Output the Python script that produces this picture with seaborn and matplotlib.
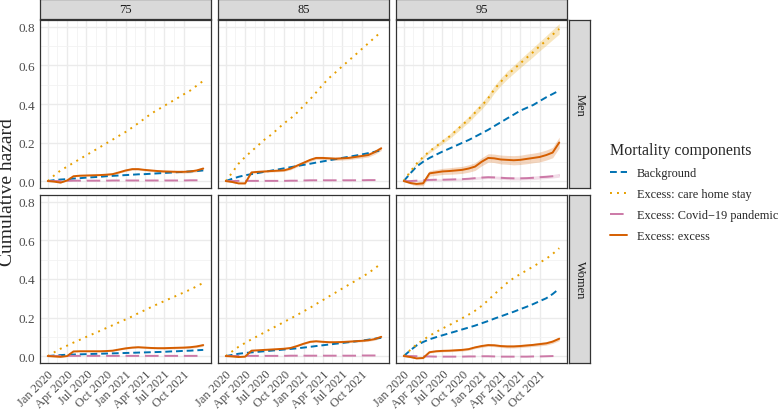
import numpy as np
import pandas as pd
import seaborn as sns
import matplotlib.pyplot as plt

sns.set_style("white")
plt.rcParams['font.family'] = ['Liberation Serif', 'DejaVu Serif']

# Monthly points, Jan 2020 .. Jan 2022
dates = pd.date_range('2020-01-01', '2022-01-01', freq='MS')
ages = ['75', '85', '95']
sexes = ['Men', 'Women']
components = ['Background', 'Excess: care home stay',
              'Excess: Covid\u221219 pandemic', 'Excess: excess']
colors = ['#0072B2', '#E69F00', '#CC79A7', '#D55E00']
tick_dates = pd.date_range('2020-01-01', '2021-10-01', freq='3MS')
tick_labels = ['Jan 2020', 'Apr 2020', 'Jul 2020', 'Oct 2020',
               'Jan 2021', 'Apr 2021', 'Jul 2021', 'Oct 2021']

# ---- Men ----
men_75_background = [0, 0.005, 0.008, 0.010, 0.013, 0.015, 0.018, 0.020, 0.022, 0.025, 0.027, 0.029, 0.031,
                     0.033, 0.035, 0.036, 0.038, 0.040, 0.042, 0.044, 0.046, 0.048, 0.050, 0.052, 0.055]
men_75_care = [0, 0.03, 0.055, 0.075, 0.095, 0.115, 0.135, 0.155, 0.175, 0.195, 0.215, 0.235, 0.255,
               0.278, 0.30, 0.325, 0.35, 0.37, 0.39, 0.41, 0.43, 0.45, 0.47, 0.495, 0.52]
men_75_covid = [0, 0, 0.001, 0.001, 0.002, 0.002, 0.002, 0.002, 0.002, 0.002, 0.003, 0.003, 0.003,
                0.003, 0.003, 0.003, 0.003, 0.003, 0.003, 0.003, 0.003, 0.003, 0.004, 0.004, 0.004]
men_75_excess = [0, -0.003, -0.008, 0.003, 0.025, 0.028, 0.029, 0.030, 0.031, 0.033, 0.036, 0.045, 0.055,
                 0.062, 0.062, 0.058, 0.055, 0.052, 0.050, 0.049, 0.048, 0.048, 0.050, 0.055, 0.065]

men_85_background = [0, 0.012, 0.022, 0.030, 0.036, 0.042, 0.048, 0.054, 0.060, 0.066, 0.072, 0.078, 0.084,
                     0.090, 0.096, 0.102, 0.108, 0.114, 0.120, 0.126, 0.132, 0.138, 0.145, 0.152, 0.160]
men_85_care = [0, 0.045, 0.09, 0.125, 0.155, 0.185, 0.215, 0.24, 0.27, 0.30, 0.325, 0.355, 0.39,
               0.425, 0.46, 0.50, 0.535, 0.565, 0.595, 0.625, 0.655, 0.685, 0.715, 0.745, 0.775]
men_85_covid = [0, 0, 0.001, 0.001, 0.001, 0.001, 0.001, 0.001, 0.001, 0.001, 0.002, 0.002, 0.003,
                0.004, 0.004, 0.004, 0.004, 0.004, 0.004, 0.004, 0.004, 0.004, 0.005, 0.005, 0.006]
men_85_excess = [0, -0.005, -0.012, -0.012, 0.045, 0.048, 0.050, 0.052, 0.054, 0.056, 0.065, 0.080, 0.095,
                 0.110, 0.120, 0.120, 0.118, 0.116, 0.118, 0.120, 0.125, 0.130, 0.135, 0.150, 0.170]

men_95_background = [0, 0.04, 0.075, 0.10, 0.12, 0.137, 0.153, 0.168, 0.183, 0.198, 0.213, 0.23, 0.248,
                     0.266, 0.285, 0.305, 0.325, 0.345, 0.365, 0.38, 0.395, 0.415, 0.435, 0.452, 0.47]
men_95_care = [0, 0.05, 0.09, 0.125, 0.155, 0.18, 0.205, 0.23, 0.26, 0.29, 0.32, 0.355, 0.39,
               0.43, 0.475, 0.515, 0.55, 0.58, 0.61, 0.64, 0.67, 0.70, 0.73, 0.76, 0.79]
men_95_covid = [0, 0, 0.002, 0.004, 0.006, 0.007, 0.007, 0.008, 0.009, 0.010, 0.012, 0.015, 0.018,
                0.020, 0.019, 0.017, 0.015, 0.014, 0.014, 0.015, 0.017, 0.020, 0.022, 0.025, 0.030]
men_95_excess = [0, -0.010, -0.015, -0.012, 0.040, 0.045, 0.050, 0.052, 0.055, 0.058, 0.065, 0.075, 0.100,
                 0.120, 0.118, 0.112, 0.110, 0.108, 0.110, 0.115, 0.120, 0.125, 0.135, 0.148, 0.200]

# ---- Women ----
women_75_background = [0, 0.003, 0.005, 0.007, 0.008, 0.009, 0.010, 0.011, 0.012, 0.013, 0.014, 0.015, 0.016,
                       0.017, 0.018, 0.019, 0.020, 0.021, 0.022, 0.024, 0.025, 0.027, 0.028, 0.030, 0.032]
women_75_care = [0, 0.02, 0.038, 0.054, 0.07, 0.085, 0.10, 0.115, 0.13, 0.145, 0.16, 0.175, 0.19,
                 0.206, 0.222, 0.238, 0.254, 0.27, 0.285, 0.30, 0.315, 0.33, 0.345, 0.362, 0.38]
women_75_covid = [0, 0, 0, 0.001, 0.001, 0.001, 0.001, 0.001, 0.001, 0.001, 0.001, 0.001, 0.001,
                  0.001, 0.001, 0.001, 0.001, 0.001, 0.001, 0.001, 0.001, 0.001, 0.001, 0.001, 0.002]
women_75_excess = [0, -0.002, -0.004, 0.0, 0.024, 0.025, 0.025, 0.025, 0.025, 0.026, 0.028, 0.034, 0.040,
                   0.044, 0.046, 0.044, 0.042, 0.041, 0.041, 0.042, 0.043, 0.044, 0.046, 0.050, 0.057]

women_85_background = [0, 0.006, 0.012, 0.016, 0.019, 0.022, 0.025, 0.028, 0.031, 0.034, 0.037, 0.040, 0.044,
                       0.048, 0.052, 0.056, 0.060, 0.064, 0.068, 0.072, 0.076, 0.080, 0.085, 0.090, 0.095]
women_85_care = [0, 0.025, 0.048, 0.068, 0.087, 0.105, 0.123, 0.141, 0.159, 0.177, 0.195, 0.213, 0.232,
                 0.251, 0.27, 0.29, 0.31, 0.33, 0.35, 0.37, 0.39, 0.41, 0.43, 0.455, 0.48]
women_85_covid = [0, 0, 0.001, 0.001, 0.001, 0.001, 0.001, 0.001, 0.001, 0.001, 0.002, 0.002, 0.002,
                  0.002, 0.002, 0.002, 0.002, 0.002, 0.002, 0.002, 0.002, 0.003, 0.003, 0.003, 0.004]
women_85_excess = [0, -0.002, -0.005, -0.003, 0.028, 0.030, 0.032, 0.034, 0.036, 0.038, 0.042, 0.052, 0.064,
                   0.074, 0.077, 0.074, 0.072, 0.072, 0.073, 0.075, 0.077, 0.079, 0.082, 0.088, 0.100]

women_95_background = [0, 0.03, 0.055, 0.073, 0.087, 0.098, 0.108, 0.118, 0.128, 0.138, 0.148, 0.158, 0.170,
                       0.182, 0.194, 0.206, 0.218, 0.23, 0.243, 0.256, 0.27, 0.285, 0.30, 0.322, 0.35]
women_95_care = [0, 0.032, 0.06, 0.084, 0.105, 0.125, 0.143, 0.16, 0.178, 0.196, 0.215, 0.235, 0.26,
                 0.29, 0.32, 0.35, 0.38, 0.405, 0.425, 0.445, 0.465, 0.485, 0.505, 0.53, 0.56]
women_95_covid = [0, 0, -0.001, -0.002, -0.002, -0.003, -0.003, -0.003, -0.003, -0.003, -0.002, -0.002, -0.001,
                  -0.001, -0.002, -0.003, -0.003, -0.003, -0.003, -0.003, -0.002, -0.002, -0.001, 0, 0.001]
women_95_excess = [0, -0.005, -0.012, -0.010, 0.020, 0.025, 0.027, 0.028, 0.030, 0.032, 0.036, 0.045, 0.052,
                   0.057, 0.056, 0.052, 0.050, 0.050, 0.052, 0.055, 0.058, 0.062, 0.066, 0.075, 0.090]

# Confidence band half-widths (only where visible)
men_75_excess_band = [0, 0.001, 0.002, 0.002, 0.003, 0.003, 0.003, 0.003, 0.003, 0.004, 0.004, 0.004, 0.005,
                      0.005, 0.005, 0.005, 0.005, 0.006, 0.006, 0.006, 0.006, 0.007, 0.007, 0.007, 0.008]
men_85_excess_band = [0, 0.002, 0.003, 0.004, 0.004, 0.005, 0.005, 0.005, 0.006, 0.006, 0.006, 0.007, 0.007,
                      0.008, 0.008, 0.008, 0.008, 0.009, 0.009, 0.009, 0.009, 0.010, 0.010, 0.011, 0.011]
men_95_excess_band = [0, 0.006, 0.010, 0.012, 0.014, 0.015, 0.016, 0.017, 0.018, 0.018, 0.019, 0.020, 0.021,
                      0.022, 0.022, 0.023, 0.023, 0.024, 0.024, 0.025, 0.025, 0.026, 0.026, 0.027, 0.028]
men_95_care_band = [0, 0.004, 0.006, 0.008, 0.009, 0.010, 0.011, 0.012, 0.013, 0.014, 0.015, 0.016, 0.017,
                    0.018, 0.019, 0.020, 0.021, 0.021, 0.022, 0.023, 0.024, 0.024, 0.025, 0.026, 0.027]
men_95_covid_band = [0, 0.002, 0.003, 0.004, 0.004, 0.005, 0.005, 0.005, 0.006, 0.006, 0.006, 0.007, 0.007,
                     0.007, 0.007, 0.008, 0.008, 0.008, 0.008, 0.008, 0.009, 0.009, 0.009, 0.009, 0.010]
women_excess_band = [0, 0.001, 0.001, 0.002, 0.002, 0.002, 0.002, 0.003, 0.003, 0.003, 0.003, 0.003, 0.004,
                     0.004, 0.004, 0.004, 0.004, 0.004, 0.005, 0.005, 0.005, 0.005, 0.005, 0.006, 0.006]
women_95_excess_band = [0, 0.002, 0.003, 0.004, 0.004, 0.005, 0.005, 0.005, 0.006, 0.006, 0.006, 0.006, 0.007,
                        0.007, 0.007, 0.007, 0.008, 0.008, 0.008, 0.008, 0.008, 0.009, 0.009, 0.009, 0.010]

series = {
    ('Men', '75'): [men_75_background, men_75_care, men_75_covid, men_75_excess],
    ('Men', '85'): [men_85_background, men_85_care, men_85_covid, men_85_excess],
    ('Men', '95'): [men_95_background, men_95_care, men_95_covid, men_95_excess],
    ('Women', '75'): [women_75_background, women_75_care, women_75_covid, women_75_excess],
    ('Women', '85'): [women_85_background, women_85_care, women_85_covid, women_85_excess],
    ('Women', '95'): [women_95_background, women_95_care, women_95_covid, women_95_excess],
}
bands = {
    ('Men', '75'): {3: men_75_excess_band},
    ('Men', '85'): {3: men_85_excess_band},
    ('Men', '95'): {1: men_95_care_band, 2: men_95_covid_band, 3: men_95_excess_band},
    ('Women', '75'): {3: women_excess_band},
    ('Women', '85'): {3: women_excess_band},
    ('Women', '95'): {3: women_95_excess_band},
}

rows = []
for (sex, age), vals in series.items():
    for comp, v in zip(components, vals):
        for d, y in zip(dates, v):
            rows.append((sex, age, comp, d, y))
df = pd.DataFrame(rows, columns=['sex', 'age', 'component', 'date', 'value'])

palette = dict(zip(components, colors))
dashes = {components[0]: (3.5, 2), components[1]: (1, 2.6),
          components[2]: (7, 3), components[3]: ''}

W, H = 778, 410
fig = plt.figure(figsize=(W / 100, H / 100), dpi=100)

def px_axes(x, y, w, h):
    return fig.add_axes([x / W, (H - y - h) / H, w / W, h / H])

col_x = [40, 218, 396]
row_y = [21, 196]
pw, ph = 171, 168
grey20 = '#333333'
pad = pd.Timedelta(days=36.5)

handles = labels = None
for r, sex in enumerate(sexes):
    for c, age in enumerate(ages):
        ax = px_axes(col_x[c], row_y[r], pw, ph)
        sub = df[(df.sex == sex) & (df.age == age)]
        for k, band in bands[(sex, age)].items():
            v = np.array(series[(sex, age)][k])
            b = np.array(band)
            ax.fill_between(dates, v - b, v + b, color=colors[k], alpha=0.25, lw=0)
        sns.lineplot(data=sub, x='date', y='value', hue='component', style='component',
                     hue_order=components, style_order=components, palette=palette,
                     dashes=dashes, linewidth=1.4, ax=ax, legend=(r == 0 and c == 0))
        if ax.get_legend() is not None:
            handles = ax.get_legend().legend_handles
            labels = [t.get_text() for t in ax.get_legend().get_texts()]
            ax.get_legend().remove()

        ax.set_xlim(dates[0] - pad, dates[-1] + pad)
        ax.set_ylim(-0.036, 0.836)
        ax.set_xticks(tick_dates)
        ax.set_xticks(tick_dates[:-1] + pd.DateOffset(days=45), minor=True)
        ax.set_yticks([0, 0.2, 0.4, 0.6, 0.8])
        ax.set_yticks([0.1, 0.3, 0.5, 0.7], minor=True)
        ax.grid(which='major', color='#EBEBEB', lw=1.0)
        ax.grid(which='minor', color='#F2F2F2', lw=0.6)
        ax.set_axisbelow(True)
        for s in ax.spines.values():
            s.set_color(grey20)
            s.set_linewidth(0.9)
        ax.set_xlabel('')
        ax.set_ylabel('')
        ax.tick_params(which='major', length=2.2, width=0.8, color=grey20,
                       labelsize=9.5, labelcolor='#4D4D4D', pad=1.2)
        ax.tick_params(which='minor', length=0)
        if c == 0:
            ax.set_yticklabels(['0.0', '0.2', '0.4', '0.6', '0.8'])
        else:
            ax.tick_params(axis='y', which='major', labelleft=False, length=0)
        if r == 1:
            ax.set_xticklabels(tick_labels, rotation=45, ha='right', va='top',
                               rotation_mode='anchor', fontsize=9)
        else:
            ax.tick_params(axis='x', which='major', labelbottom=False, length=0)

        # facet strips
        if r == 0:
            st = px_axes(col_x[c], 0, pw, 20)
            st.set_facecolor('#D9D9D9')
            st.set_xticks([]); st.set_yticks([])
            for s in st.spines.values():
                s.set_color(grey20); s.set_linewidth(0.9)
            st.text(0.5, 0.5, age, ha='center', va='center', fontsize=9, color='#1A1A1A',
                    transform=st.transAxes)
        if c == 2:
            st = px_axes(569, row_y[r], 21, ph)
            st.set_facecolor('#D9D9D9')
            st.set_xticks([]); st.set_yticks([])
            for s in st.spines.values():
                s.set_color(grey20); s.set_linewidth(0.9)
            st.text(0.5, 0.5, sex, ha='center', va='center', rotation=-90, fontsize=9,
                    color='#1A1A1A', transform=st.transAxes)

fig.text(8 / W, 1 - 192 / H, 'Cumulative hazard', rotation=90, ha='center', va='center',
         fontsize=14)

fig.legend(handles, labels, loc='upper left', bbox_to_anchor=(605 / W, 1 - 138 / H),
           title='Mortality components', frameon=False, fontsize=8.8, title_fontsize=11.5,
           handlelength=1.4, handletextpad=0.8, labelspacing=0.74, alignment='left',
           borderaxespad=0)

fig.savefig('out.png', dpi=100)
